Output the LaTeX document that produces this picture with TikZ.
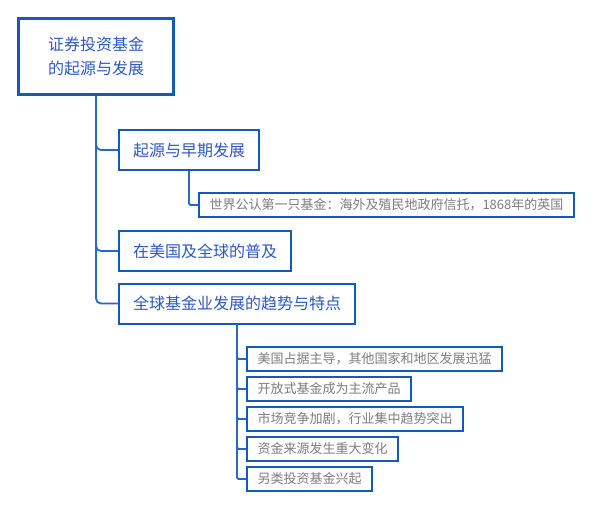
\documentclass[tikz,border=0pt]{standalone}
\usepackage{fontspec}
\setmainfont{Noto Sans CJK SC}
\usetikzlibrary{positioning}
\definecolor{boxblue}{RGB}{20,90,182}
\definecolor{linkblue}{RGB}{36,106,200}
\definecolor{txtblue}{RGB}{45,88,196}
\definecolor{txtgray}{RGB}{125,125,125}
\tikzset{
  rootbox/.style={rectangle, draw=boxblue, line width=2.8pt, text=txtblue,
    align=center, minimum width=155pt, minimum height=76pt,
    font=\fontsize{16}{24}\selectfont},
  topicbox/.style={rectangle, draw=boxblue, line width=2pt, text=txtblue,
    anchor=west, minimum height=40pt, inner xsep=14pt,
    font=\fontsize{16}{20}\selectfont},
  leafbox/.style={rectangle, draw=boxblue, line width=2pt, text=txtgray,
    anchor=west, minimum height=24pt, inner xsep=10.5pt,
    font=\fontsize{13}{16}\selectfont},
  link/.style={draw=linkblue, line width=1.8pt, rounded corners=5pt},
  leaflink/.style={draw=linkblue, line width=1.8pt, rounded corners=1.5pt}
}
\begin{document}
\begin{tikzpicture}[x=1pt, y=-1pt]
  \useasboundingbox[fill=white] (0,0) rectangle (594,509);
  % root
  \node[rootbox] (root) at (96,56.5) {证券投资基金\\的起源与发展};
  % main topics
  \node[topicbox] (origin) at (118,150) {起源与早期发展};
  \node[topicbox] (spread) at (118,251) {在美国及全球的普及};
  \node[topicbox] (trend)  at (118,303.5) {全球基金业发展的趋势与特点};
  % details of the first topic
  \node[leafbox] (first) at (198,205) {世界公认第一只基金：海外及殖民地政府信托，1868年的英国};
  % details of the third topic
  \node[leafbox] (usa)   at (246,359) {美国占据主导，其他国家和地区发展迅猛};
  \node[leafbox] (open)  at (246,389) {开放式基金成为主流产品};
  \node[leafbox] (comp)  at (246,419) {市场竞争加剧，行业集中趋势突出};
  \node[leafbox] (cash)  at (246,449) {资金来源发生重大变化};
  \node[leafbox] (alter) at (246,479) {另类投资基金兴起};
  % connectors
  \foreach \t in {origin, spread, trend}
    \draw[link] (root.south) |- (\t.west);
  \draw[leaflink] (origin.south) |- (first.west);
  \foreach \t in {usa, open, comp, cash, alter}
    \draw[leaflink] (trend.south) |- (\t.west);
\end{tikzpicture}
\end{document}
